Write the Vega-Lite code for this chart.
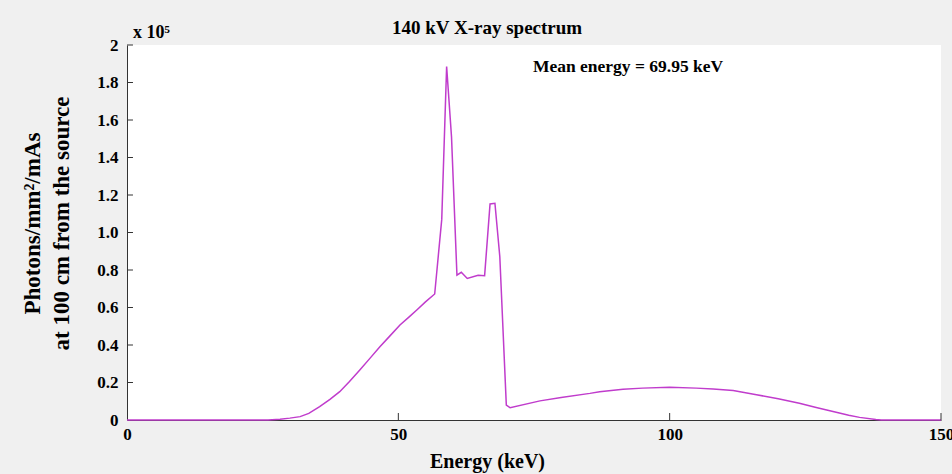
{
  "$schema": "https://vega.github.io/schema/vega-lite/v6.json",
  "width": 814,
  "height": 375,
  "autosize": {"type": "none"},
  "padding": {"left": 127, "top": 45, "right": 11, "bottom": 54},
  "background": "#f0f0f0",
  "view": {"fill": "white", "stroke": null},
  "title": {
    "text": "140 kV X-ray spectrum",
    "anchor": "start",
    "frame": "group",
    "dx": 265,
    "dy": 29,
    "offset": 0,
    "baseline": "alphabetic",
    "font": "Liberation Serif",
    "fontWeight": "bold",
    "fontSize": 19,
    "color": "black"
  },
  "datasets": {
    "spectrum": [
      {"energy": 0, "photons": 0},
      {"energy": 10, "photons": 0},
      {"energy": 20, "photons": 0},
      {"energy": 26, "photons": 0},
      {"energy": 28.2, "photons": 400},
      {"energy": 30, "photons": 1000},
      {"energy": 31.9, "photons": 1800},
      {"energy": 33.5, "photons": 3500},
      {"energy": 35.5, "photons": 7100},
      {"energy": 37.4, "photons": 11000},
      {"energy": 39.2, "photons": 15100},
      {"energy": 41, "photons": 20500},
      {"energy": 42.9, "photons": 26700},
      {"energy": 44.8, "photons": 33000},
      {"energy": 46.6, "photons": 39100},
      {"energy": 48.5, "photons": 45000},
      {"energy": 50.3, "photons": 50700},
      {"energy": 52, "photons": 55000},
      {"energy": 53.4, "photons": 58700},
      {"energy": 55, "photons": 63000},
      {"energy": 56.7, "photons": 67200},
      {"energy": 58.0, "photons": 107000},
      {"energy": 58.9, "photons": 188500},
      {"energy": 59.8, "photons": 151000},
      {"energy": 60.8, "photons": 77300},
      {"energy": 61.6, "photons": 78800},
      {"energy": 62.7, "photons": 75500},
      {"energy": 64.7, "photons": 77200},
      {"energy": 65.9, "photons": 77000},
      {"energy": 66.9, "photons": 115200},
      {"energy": 67.8, "photons": 115600},
      {"energy": 68.7, "photons": 87100},
      {"energy": 69.9, "photons": 8000},
      {"energy": 70.6, "photons": 6500},
      {"energy": 76.1, "photons": 10200},
      {"energy": 80, "photons": 12000},
      {"energy": 85.3, "photons": 14200},
      {"energy": 87.1, "photons": 15100},
      {"energy": 91.4, "photons": 16400},
      {"energy": 95, "photons": 17000},
      {"energy": 100, "photons": 17400},
      {"energy": 104.9, "photons": 17000},
      {"energy": 108, "photons": 16500},
      {"energy": 111.7, "photons": 15700},
      {"energy": 116, "photons": 13500},
      {"energy": 120, "photons": 11300},
      {"energy": 123.9, "photons": 8900},
      {"energy": 127, "photons": 6700},
      {"energy": 130.1, "photons": 4500},
      {"energy": 133, "photons": 2500},
      {"energy": 135, "photons": 1400},
      {"energy": 138, "photons": 300},
      {"energy": 139, "photons": 0},
      {"energy": 150, "photons": 0}
    ],
    "notes": [
      {"energy": 74.8, "photons": 185600, "label": "Mean energy = 69.95 keV", "size": 17.5},
      {"energy": 1.1, "photons": 204000, "label": "x 10⁵", "size": 18}
    ],
    "yticks": [
      {"photons": 20000}, {"photons": 40000}, {"photons": 60000}, {"photons": 80000},
      {"photons": 100000}, {"photons": 120000}, {"photons": 140000}, {"photons": 160000},
      {"photons": 180000}, {"photons": 200000}
    ],
    "xticks": [
      {"energy": 50}, {"energy": 100}, {"energy": 150}
    ]
  },
  "resolve": {"axis": {"x": "independent", "y": "independent"}},
  "layer": [
    {
      "data": {"name": "spectrum"},
      "mark": {"type": "line", "color": "#c03ccc", "strokeWidth": 1.5, "interpolate": "linear"},
      "encoding": {
        "x": {
          "field": "energy",
          "type": "quantitative",
          "scale": {"domain": [0, 150], "nice": false, "zero": false},
          "axis": {
            "orient": "bottom",
            "values": [0, 50, 100, 150],
            "title": "Energy (keV)",
            "grid": false,
            "domainColor": "#333",
            "ticks": false,
            "labelPadding": 6,
            "labelFont": "Liberation Serif",
            "labelFontWeight": "bold",
            "labelFontSize": 17,
            "labelColor": "black",
            "labelFlush": false,
            "labelOverlap": false,
            "titleFont": "Liberation Serif",
            "titleFontWeight": "bold",
            "titleFontSize": 20,
            "titleColor": "black",
            "titleX": 360,
            "titleY": 47,
            "titleAlign": "center",
            "titleBaseline": "alphabetic"
          }
        },
        "y": {
          "field": "photons",
          "type": "quantitative",
          "scale": {"domain": [0, 200000], "nice": false},
          "axis": {
            "orient": "left",
            "values": [0, 20000, 40000, 60000, 80000, 100000, 120000, 140000, 160000, 180000, 200000],
            "labelExpr": "datum.value == 0 ? '0' : datum.value == 200000 ? '2' : format(datum.value / 100000, '.1f')",
            "title": ["Photons/mm²/mAs", "at 100 cm from the source"],
            "grid": false,
            "domainColor": "#333",
            "ticks": false,
            "labelPadding": 9,
            "labelFont": "Liberation Serif",
            "labelFontWeight": "bold",
            "labelFontSize": 17,
            "labelColor": "black",
            "labelFlush": false,
            "labelOverlap": false,
            "titleFont": "Liberation Serif",
            "titleFontWeight": "bold",
            "titleFontSize": 23,
            "titleColor": "black",
            "titleAngle": -90,
            "titleX": -88,
            "titleY": 178,
            "titleAlign": "center",
            "titleBaseline": "alphabetic",
            "titleLineHeight": 29
          }
        }
      }
    },
    {
      "data": {"name": "notes"},
      "mark": {"type": "text", "align": "left", "baseline": "alphabetic", "font": "Liberation Serif", "fontWeight": "bold", "color": "black"},
      "encoding": {
        "x": {"field": "energy", "type": "quantitative", "axis": null},
        "y": {"field": "photons", "type": "quantitative", "axis": null},
        "text": {"field": "label"},
        "size": {"field": "size", "type": "quantitative", "scale": null}
      }
    },
    {
      "data": {"name": "yticks"},
      "mark": {"type": "rule", "color": "#333", "strokeWidth": 1},
      "encoding": {
        "y": {"field": "photons", "type": "quantitative", "axis": null},
        "x": {"datum": 0, "type": "quantitative", "axis": null},
        "x2": {"datum": 1.1}
      }
    },
    {
      "data": {"name": "xticks"},
      "mark": {"type": "rule", "color": "#333", "strokeWidth": 1},
      "encoding": {
        "x": {"field": "energy", "type": "quantitative", "axis": null},
        "y": {"datum": 0, "type": "quantitative", "axis": null},
        "y2": {"datum": 3733}
      }
    }
  ]
}
